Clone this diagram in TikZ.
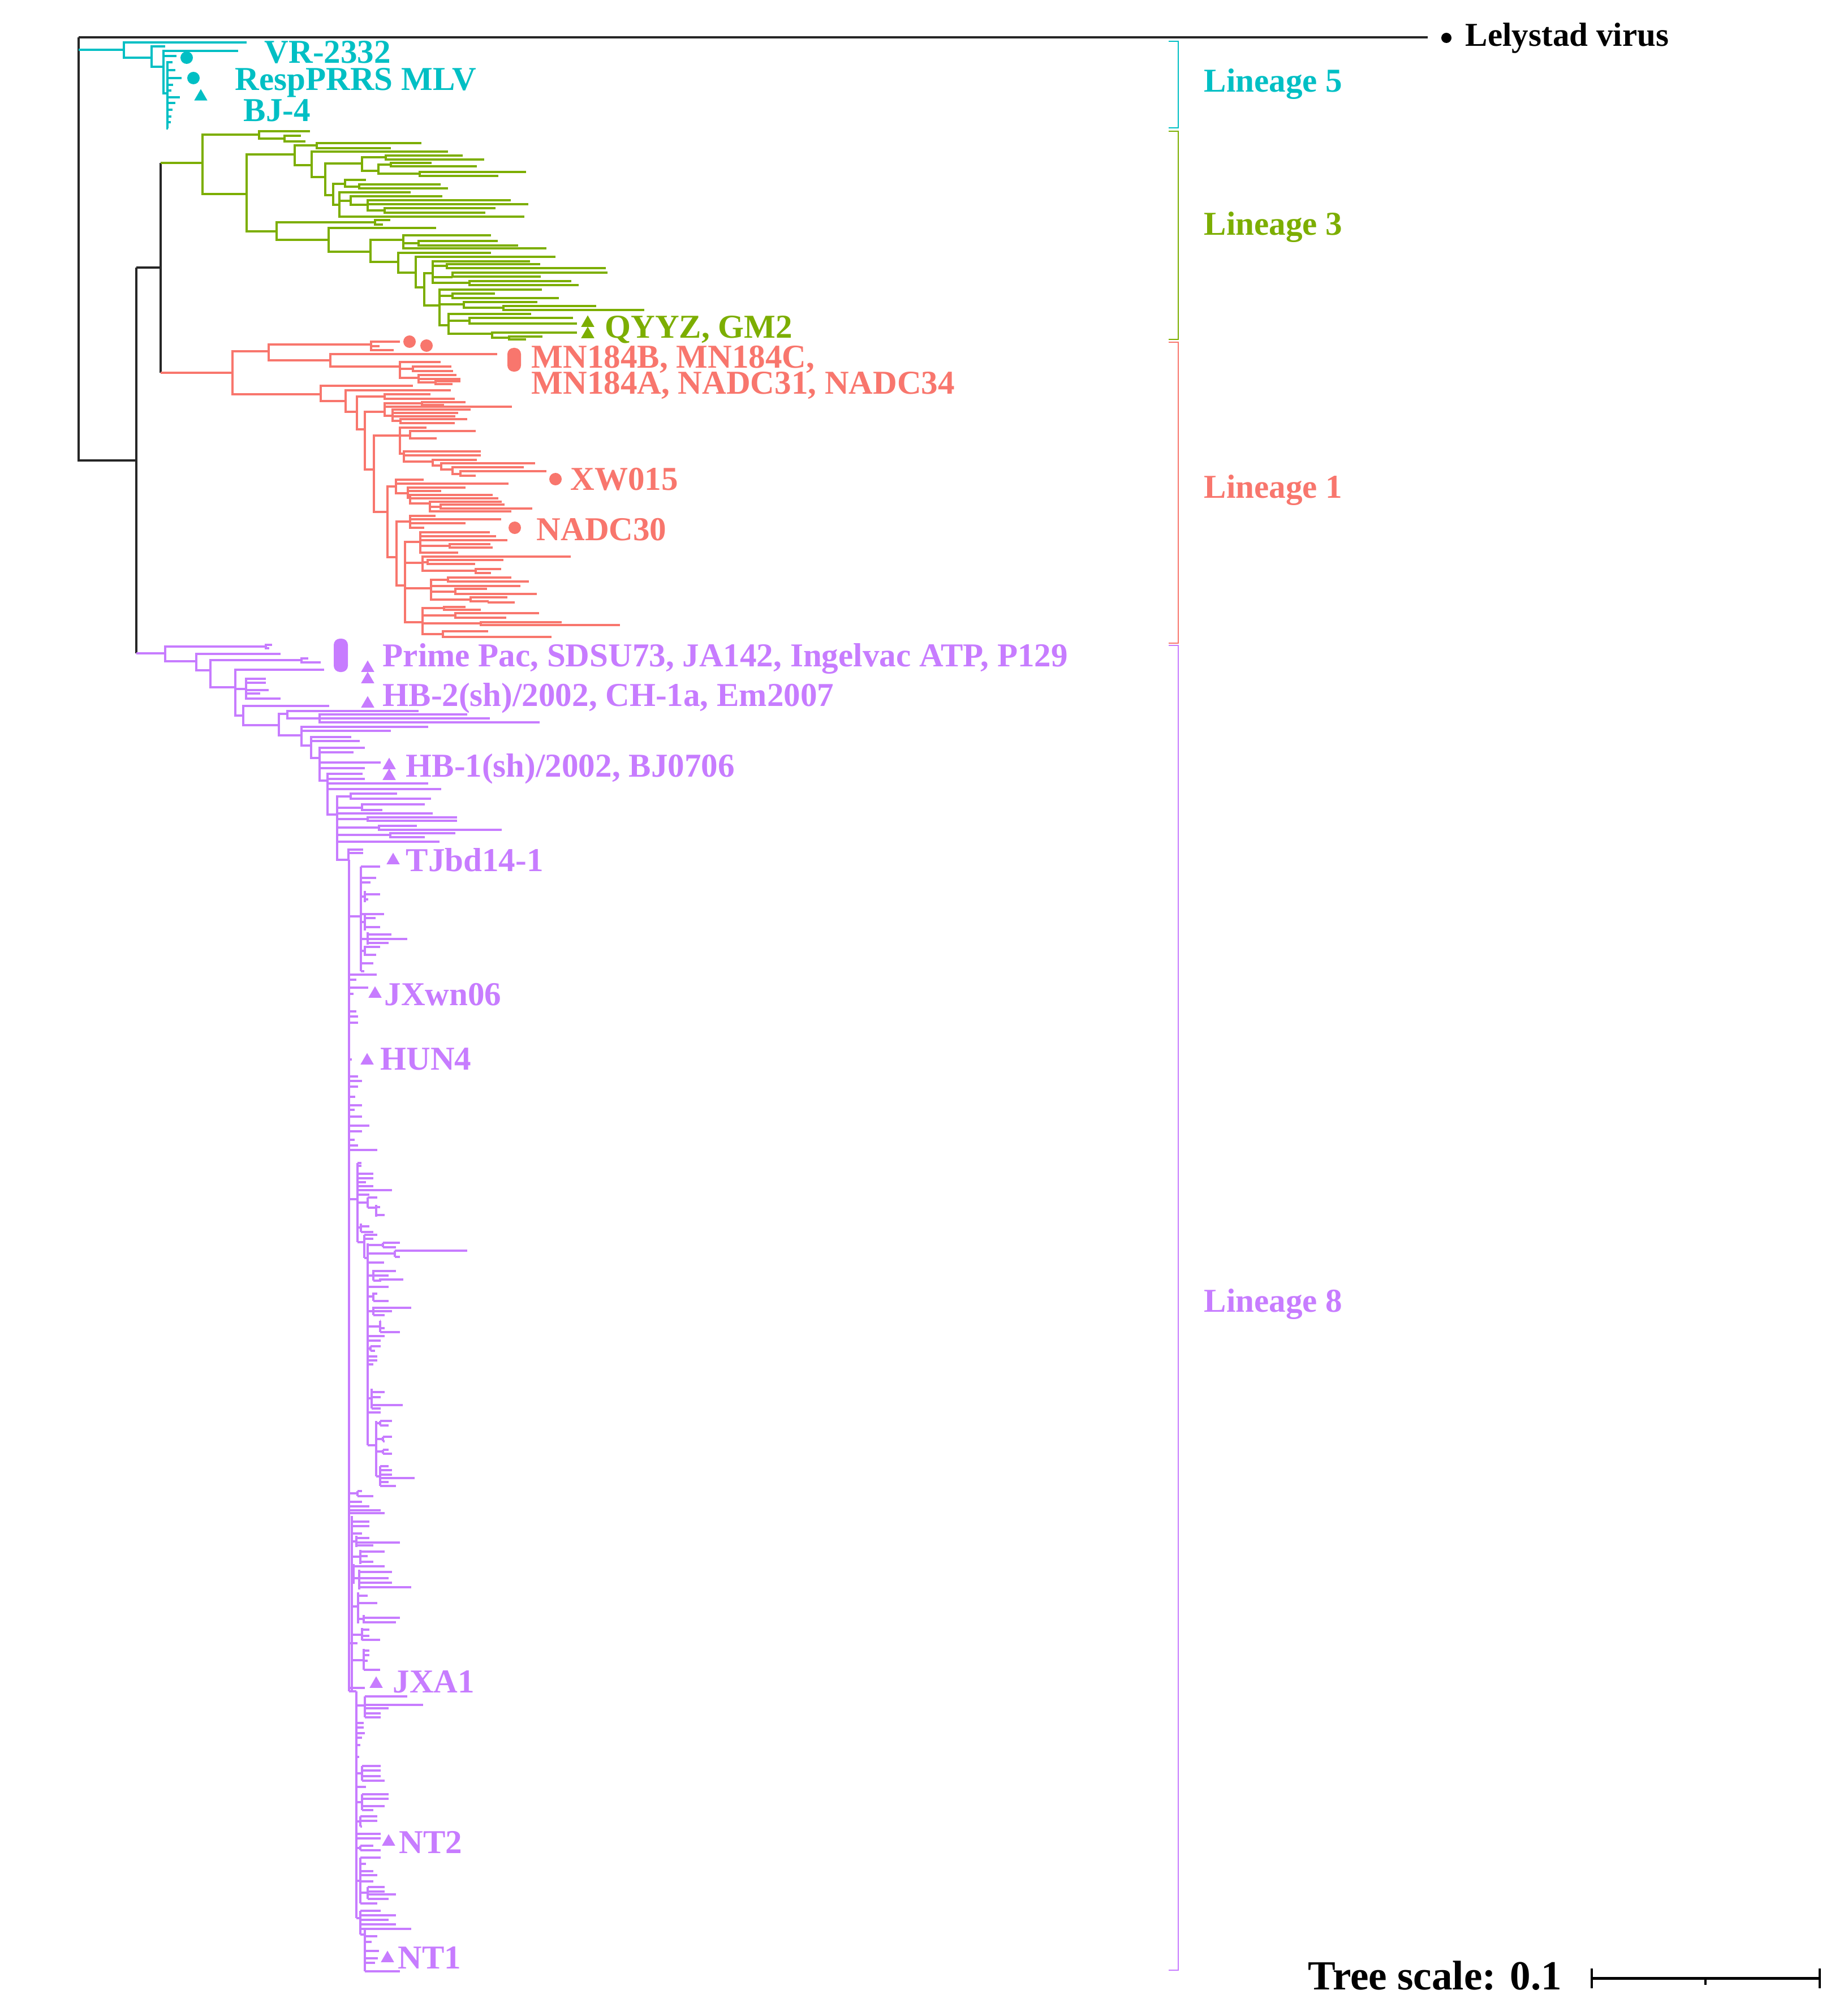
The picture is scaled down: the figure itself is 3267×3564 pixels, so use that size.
\documentclass[tikz,border=0pt]{standalone}
\usepackage{fontspec}
\setmainfont{Liberation Serif}
\usetikzlibrary{shapes.geometric}
\definecolor{cLv}{HTML}{00BFC4}
\definecolor{cLiii}{HTML}{7CAE00}
\definecolor{cLi}{HTML}{F8766D}
\definecolor{cLviii}{HTML}{C77CFF}
\newcommand\phyE[2]{\foreach \a/\b/\c/\d in {#2} {\draw[br,#1] (\a,\b) |- (\c,\d);}}
\newcommand\phyL[2]{\foreach \a/\b/\c in {#2} {\draw[br,#1] (\a,\b) -- (\c,\b);}}
\newcommand\phyV[2]{\foreach \a/\b/\c in {#2} {\draw[br,#1] (\a,\b) -- (\a,\c);}}
\begin{document}
\begin{tikzpicture}[x=0.01cm,y=-0.01cm,
  br/.style={line width=1.1pt},
  lab/.style={font=\fontsize{16.8}{20}\selectfont\bfseries, anchor=base west, inner sep=0pt},
  dotm/.style={circle, fill, inner sep=0pt, minimum size=0.22cm},
  trim/.style={regular polygon, regular polygon sides=3, fill, inner sep=0pt, minimum size=0.27cm},
  brk/.style={line width=0.8pt}]
\useasboundingbox (0,0) rectangle (3267,3564);

% ---- black root ----
\draw[line width=1.3pt, black!85] (139,66) -- (2524,66);
\draw[br, black!85] (139,66) -- (139,814) -- (241,814);
\draw[br, black!85] (241,473) -- (241,1155);
\draw[br, black!85] (241,473) -- (284,473);
\draw[br, black!85] (284,288) -- (284,659);
\node[circle, fill, inner sep=0pt, minimum size=0.18cm] (lelydot) at (2557,67) {};
\node[lab] (lely) at (2590,82) {Lelystad virus};

% ---- Lineage 5 (cyan) ----
\phyE{cLv}{139/88/219/88, 219/88/436/75, 219/88/268/102, 268/102/292/82, 268/102/289/118,
 289/118/421/90, 289/118/312/99, 289/118/296/165, 296/165/305/110, 296/165/310/124,
 296/165/321/138, 296/165/306/150, 296/165/303/160, 296/165/318/172, 296/165/310/182,
 296/165/305/194, 296/165/303/206, 296/165/302/216, 296/165/297/227}
\node[dotm, cLv] (d5a) at (330,102) {};
\node[dotm, cLv] (d5b) at (342,138) {};
\node[trim, cLv] (t5a) at (355,171) {};
\node[lab, cLv] (vr) at (467,112) {VR-2332};
\node[lab, cLv] (resp) at (415,160) {RespPRRS MLV};
\node[lab, cLv] (bj4) at (430,215) {BJ-4};

% ---- Lineage 3 (green) ----
\phyE{cLiii}{284/288/358/288, 358/290/458/238, 358/290/436/343, 458/238/548/232, 458/238/503/245,
 503/245/532/240, 503/245/540/250, 436/343/521/273, 521/273/560/257, 521/273/551/292,
 560/257/745/253, 560/257/691/262, 551/292/792/268, 551/292/575/313, 575/313/640/289,
 575/313/589/345, 640/289/682/278, 640/289/669/302, 682/278/818/275, 682/278/856/282,
 669/302/691/291, 691/291/763/288, 691/291/843/294, 669/302/742/307, 742/307/930/304,
 742/307/881/311, 589/345/610/325, 610/325/647/318, 610/325/635/330, 635/330/779/326,
 635/330/792/333, 589/345/600/362, 600/362/726/340, 600/362/620/355, 620/355/782/347,
 620/355/650/362, 650/362/903/354, 650/362/934/361, 650/362/680/372, 680/372/876/368,
 680/372/858/376, 600/362/927/383}
\phyE{cLiii}{436/343/489/409, 489/409/663/393, 663/393/690/389, 663/393/677/397, 489/409/581/424,
 581/424/771/403, 581/424/655/445, 655/445/713/424, 713/424/868/416, 713/424/740/430,
 740/430/880/426, 740/430/916/434, 713/424/966/439, 655/445/704/463, 704/463/868/447,
 704/463/735/482, 735/482/982/454, 735/482/750/508, 750/508/765/483, 765/483/937/462,
 765/483/790/470, 790/470/955/467, 790/470/1071/474, 765/483/800/490, 800/490/1074/482,
 800/490/956/489, 765/483/830/500, 830/500/1010/497, 830/500/1023/504, 750/508/777/540,
 777/540/958/512, 777/540/800/523, 800/523/875/519, 800/523/988/527, 777/540/820/538,
 820/538/950/534, 820/538/890/544, 890/544/1054/541, 890/544/1139/548, 777/540/793/575,
 793/575/939/555, 793/575/830/567, 830/567/1013/562, 830/567/1020/572, 793/575/870/590,
 870/590/1020/588, 870/590/900/597, 900/597/959/595, 900/597/930/600}
\node[trim, cLiii] (t3a) at (1039,571) {};
\node[trim, cLiii] (t3b) at (1039,591) {};
\node[lab, cLiii] (qyyz) at (1069,598) {QYYZ, GM2};

% ---- Lineage 1 (red) ----
\phyE{cLi}{284/659/411/659, 411/659/475/621, 411/659/567/697, 475/621/656/609, 656/609/707/604,
 656/609/671/612, 656/609/696/619, 475/621/584/637, 584/637/879/626, 584/637/707/648,
 707/648/779/640, 707/648/730/652, 730/652/798/648, 730/652/801/656, 707/648/740/668,
 740/668/807/663, 740/668/814/670, 740/668/770/676, 770/676/814/674, 770/676/800/679,
 567/697/730/682, 567/697/611/709, 611/709/797/690, 611/709/631/728, 631/728/680/701,
 680/701/761/697, 680/701/804/705, 631/728/645/759, 645/759/680/728, 680/728/746/713,
 746/713/823/711, 746/713/785/716, 680/728/905/719, 680/728/694/735, 694/735/832/724,
 694/735/810/730, 694/735/805/736, 694/735/708/744, 708/744/826/741, 708/744/804/748,
 645/759/661/830, 661/830/707/770, 707/770/754/756, 707/770/725/770, 725/770/841/762,
 725/770/772/775, 707/770/714/802, 714/802/850/798, 714/802/850/805, 714/802/765/816,
 765/816/843/813, 765/816/780/823, 780/823/946/819, 780/823/800/830, 800/830/926/826,
 800/830/814/838, 814/838/966/833, 814/838/841/841}
\phyE{cLi}{661/830/685/905, 685/905/700/860, 700/860/749/848, 700/860/899/855, 700/860/721/872,
 721/872/823/862, 721/872/780/868, 721/872/725/880, 725/880/871/875, 725/880/881/881,
 725/880/760/890, 760/890/887/887, 760/890/779/896, 779/896/892/892, 779/896/941/899,
 760/890/904/904, 685/905/701/985, 701/985/725/922, 725/922/770/912, 725/922/886/918,
 725/922/823/925, 725/922/750/933, 701/985/716/1035, 716/1035/743/958, 743/958/866/941,
 743/958/877/948, 743/958/897/955, 743/958/795/965, 795/965/867/962, 795/965/871/968,
 743/958/810/977, 716/1035/747/995, 747/995/1009/984, 747/995/756/994, 756/994/890/990,
 756/994/840/997, 747/995/841/1009, 841/1009/886/1006, 841/1009/868/1013, 716/1035/762/1040,
 762/1040/792/1025, 792/1025/904/1021, 792/1025/935/1028, 762/1040/920/1036, 762/1040/805/1046,
 805/1046/861/1041, 805/1046/949/1050, 762/1040/832/1060, 832/1060/897/1056, 832/1060/864/1063,
 864/1063/910/1065, 716/1035/747/1100, 747/1100/785/1075, 785/1075/823/1073, 785/1075/850/1078,
 747/1100/805/1088, 805/1088/953/1084, 805/1088/895/1092, 747/1100/850/1102, 850/1102/993/1100,
 850/1102/1096/1105, 747/1100/783/1121, 783/1121/863/1116, 783/1121/975/1126}
\node[dotm, cLi] (d1a) at (724,604) {};
\node[dotm, cLi] (d1b) at (754,611) {};
\fill[cLi, rounded corners=0.11cm] (897,615) rectangle (921,657);
\node[lab, cLi] (mn1) at (939,651) {MN184B, MN184C,};
\node[lab, cLi] (mn2) at (939,696) {MN184A, NADC31, NADC34};
\node[dotm, cLi] (d1c) at (982,847) {};
\node[lab, cLi] (xw) at (1008,866) {XW015};
\node[dotm, cLi] (d1d) at (910,933) {};
\node[lab, cLi] (nadc30) at (948,955) {NADC30};

% ---- Lineage 8 (purple) upper ----
\phyE{cLviii}{241/1155/292/1155, 292/1157/470/1143, 470/1143/481/1140, 470/1143/476/1146,
 292/1157/347/1169, 347/1169/496/1156, 347/1169/372/1185, 372/1185/533/1167, 533/1167/567/1171,
 533/1167/545/1164, 372/1185/416/1215, 416/1215/573/1184, 416/1215/435/1218, 435/1218/470/1200,
 435/1218/470/1207, 435/1218/475/1220, 435/1218/460/1226, 435/1218/496/1235, 416/1215/430/1265,
 430/1265/582/1248, 430/1265/493/1282, 493/1282/508/1262, 508/1262/740/1257, 508/1262/565/1270,
 565/1270/826/1263, 565/1270/866/1270, 565/1270/954/1277, 493/1282/533/1300, 533/1300/757/1285,
 533/1300/691/1292, 533/1300/550/1318, 550/1318/621/1303, 550/1318/636/1310, 550/1318/565/1340,
 565/1340/645/1322, 565/1340/625/1330, 565/1340/673/1348, 565/1340/645/1358, 565/1340/579/1380,
 579/1380/641/1368, 579/1380/645/1377, 579/1380/757/1385, 579/1380/780/1395, 579/1380/596/1440,
 596/1440/620/1408, 620/1408/702/1403, 620/1408/762/1412, 596/1440/640/1428, 640/1428/751/1422,
 640/1428/676/1432, 596/1440/765/1438, 596/1440/650/1448, 650/1448/808/1445, 650/1448/808/1451,
 596/1440/670/1463, 670/1463/737/1460, 670/1463/887/1467, 596/1440/690/1476, 690/1476/805/1473,
 690/1476/751/1480, 596/1440/777/1488, 596/1440/616/1520, 616/1520/642/1502, 616/1520/642/1508}
% backbone
\phyV{cLviii}{617/1520/2990, 622/2680/2990, 630/2990/3391}
% TJbd group
\phyV{cLviii}{638/1532/1717, 645/1575/1595, 645/1618/1645, 650/1648/1670, 645/1672/1690}
\phyL{cLviii}{617/1620/638, 638/1532/672, 638/1552/665, 638/1560/655, 638/1585/645, 645/1581/672,
 645/1590/651, 638/1616/679, 638/1630/645, 645/1623/664, 645/1639/672, 638/1660/650, 650/1652/692,
 650/1660/720, 650/1667/687, 638/1681/645, 645/1674/672, 645/1688/665, 638/1703/660, 638/1717/644}
% backbone leaves
\phyL{cLviii}{617/1723/666, 617/1732/630, 617/1746/651, 617/1757/625, 617/1788/630, 617/1797/633,
 617/1808/633, 617/1873/622, 617/1903/633, 617/1911/640, 617/1921/633, 617/1939/628, 617/1954/640,
 617/1962/627, 617/1974/640, 617/1990/653, 617/2000/640, 617/2015/627, 617/2025/633, 617/2033/667}
% group 2050-2200
\phyV{cLviii}{632/2056/2196, 650/2117/2135, 665/2130/2151, 638/2163/2178, 644/2183/2224}
\phyL{cLviii}{617/2120/632, 632/2056/639, 632/2061/639, 632/2075/660, 632/2083/660, 632/2090/647,
 632/2097/660, 632/2104/693, 632/2112/653, 632/2126/650, 650/2117/667, 650/2135/665, 665/2134/672,
 665/2148/680, 632/2170/638, 638/2168/653, 638/2178/660, 632/2196/644, 644/2183/667, 644/2190/660,
 644/2224/650}
% group 2200-2530
\phyV{cLviii}{650/2198/2555, 677/2197/2205, 698/2211/2222, 660/2245/2264, 672/2260/2266,
 660/2285/2300, 660/2310/2325, 672/2335/2355, 655/2380/2388, 657/2455/2490, 665/2512/2610,
 672/2512/2520, 677/2540/2548, 677/2563/2570, 672/2592/2627}
\phyL{cLviii}{650/2201/677, 677/2197/707, 677/2205/700, 650/2216/698, 698/2211/826, 698/2222/707,
 650/2232/679, 650/2255/660, 660/2247/700, 660/2255/687, 660/2264/672, 672/2262/713, 650/2275/687,
 650/2292/660, 660/2287/667, 660/2300/687, 650/2318/660, 660/2312/727, 660/2318/693, 660/2325/680,
 650/2345/672, 672/2335/673, 672/2348/680, 672/2355/707, 650/2362/680, 650/2370/673, 650/2384/655,
 655/2380/673, 655/2388/663, 650/2398/667, 650/2405/667, 650/2412/660, 650/2472/657, 657/2461/680,
 657/2470/673, 657/2484/712, 657/2490/673, 650/2497/673, 650/2555/665, 665/2516/672, 672/2512/693,
 672/2520/687, 665/2544/677, 677/2540/693, 677/2548/680, 665/2566/677, 677/2563/687, 677/2570/693,
 665/2610/672, 672/2592/687, 672/2599/693, 672/2607/693, 672/2613/733, 672/2620/687, 672/2627/700}
% backbone 2630-2990
\phyV{cLviii}{632/2636/2645, 630/2715/2735, 637/2740/2765, 625/2765/2800, 635/2775/2810,
 633/2815/2870, 643/2855/2870, 640/2878/2900, 643/2915/2952}
\phyL{cLviii}{617/2640/632, 632/2636/640, 632/2645/660, 617/2655/640, 617/2663/653, 617/2670/673,
 617/2675/680, 622/2690/653, 622/2698/653, 622/2711/640, 622/2725/630, 630/2719/653, 630/2727/707,
 630/2732/660, 622/2752/637, 637/2743/680, 637/2751/650, 637/2761/660, 622/2782/625, 625/2769/680,
 625/2790/635, 635/2779/693, 635/2790/687, 635/2798/693, 635/2806/727, 622/2840/633, 633/2821/650,
 633/2834/667, 633/2862/643, 643/2860/707, 643/2868/700, 622/2890/640, 640/2881/653, 640/2892/653,
 640/2899/672, 617/2905/632, 622/2935/643, 643/2918/653, 643/2926/653, 643/2936/650, 643/2952/672,
 617/2984/645, 617/2990/630}
% bottom group
\phyV{cLviii}{645/2999/3036, 640/3122/3148, 640/3172/3200, 637/3211/3229, 637/3263/3271,
 637/3284/3365, 650/3336/3357, 637/3378/3420, 645/3410/3485}
\phyL{cLviii}{630/3015/645, 645/2999/720, 645/3014/748, 645/3020/687, 645/3029/673, 645/3036/673,
 630/3046/643, 630/3054/643, 630/3064/645, 630/3072/640, 630/3085/637, 630/3106/635,
 630/3135/640, 640/3122/673, 640/3130/673, 640/3140/673, 640/3148/680, 630/3159/647,
 630/3186/640, 640/3172/687, 640/3180/687, 640/3193/680, 640/3200/660, 630/3220/637,
 637/3211/667, 637/3219/667, 637/3229/640, 630/3242/673, 630/3250/673, 630/3267/637,
 637/3263/660, 637/3271/673, 630/3325/637, 637/3284/673, 637/3295/647, 637/3308/660, 637/3315/667,
 637/3326/660, 637/3346/650, 650/3336/680, 650/3344/680, 650/3349/700, 650/3357/687, 637/3365/667,
 630/3391/637, 637/3378/673, 637/3386/700, 637/3394/687, 637/3402/700, 637/3410/727,
 637/3420/645, 645/3423/667, 645/3433/657, 645/3449/670, 645/3462/668, 645/3470/663, 645/3485/707}
% markers and labels
\fill[cLviii, rounded corners=0.11cm] (590,1129) rectangle (615,1188);
\node[trim, cLviii] (t8a) at (650,1181) {};
\node[trim, cLviii] (t8b) at (650,1201) {};
\node[trim, cLviii] (t8c) at (650,1244) {};
\node[trim, cLviii] (t8d) at (688,1353) {};
\node[trim, cLviii] (t8e) at (688,1372) {};
\node[trim, cLviii] (t8f) at (695,1521) {};
\node[trim, cLviii] (t8g) at (663,1757) {};
\node[trim, cLviii] (t8h) at (649,1875) {};
\node[trim, cLviii] (t8i) at (665,2977) {};
\node[trim, cLviii] (t8j) at (687,3256) {};
\node[trim, cLviii] (t8k) at (685,3462) {};
\node[lab, cLviii] (prime) at (676,1178) {Prime Pac, SDSU73, JA142, Ingelvac ATP, P129};
\node[lab, cLviii] (hb2) at (676,1248) {HB-2(sh)/2002, CH-1a, Em2007};
\node[lab, cLviii] (hb1) at (717,1373) {HB-1(sh)/2002, BJ0706};
\node[lab, cLviii] (tjbd) at (717,1540) {TJbd14-1};
\node[lab, cLviii] (jxwn) at (679,1777) {JXwn06};
\node[lab, cLviii] (hun4) at (672,1891) {HUN4};
\node[lab, cLviii] (jxa1) at (694,2992) {JXA1};
\node[lab, cLviii] (nt2) at (705,3276) {NT2};
\node[lab, cLviii] (nt1) at (703,3480) {NT1};

% ---- lineage brackets ----
\draw[brk, cLv] (2066,73) -- (2083,73) -- (2083,226) -- (2066,226);
\draw[brk, cLiii] (2066,232) -- (2083,232) -- (2083,600) -- (2066,600);
\draw[brk, cLi] (2066,605) -- (2083,605) -- (2083,1137) -- (2066,1137);
\draw[brk, cLviii] (2066,1141) -- (2083,1141) -- (2083,3483) -- (2066,3483);
\node[lab, cLv] (lin5) at (2128,163) {Lineage 5};
\node[lab, cLiii] (lin3) at (2128,416) {Lineage 3};
\node[lab, cLi] (lin1) at (2128,880) {Lineage 1};
\node[lab, cLviii] (lin8) at (2128,2319) {Lineage 8};

% ---- scale bar ----
\node[font=\fontsize{20.8}{24}\selectfont\bfseries, anchor=base west, inner sep=0pt] (scale) at (2312,3517) {Tree scale: 0.1};
\coordinate (sbL) at (2814,3497);
\coordinate (sbR) at (3217,3497);
\draw[line width=1.4pt] (sbL) -- (sbR);
\draw[line width=1.2pt] (2814,3480) -- (2814,3515);
\draw[line width=1.2pt] (3217,3480) -- (3217,3515);
\draw[line width=1.2pt] (3015,3497) -- (3015,3509);
\end{tikzpicture}
\end{document}
